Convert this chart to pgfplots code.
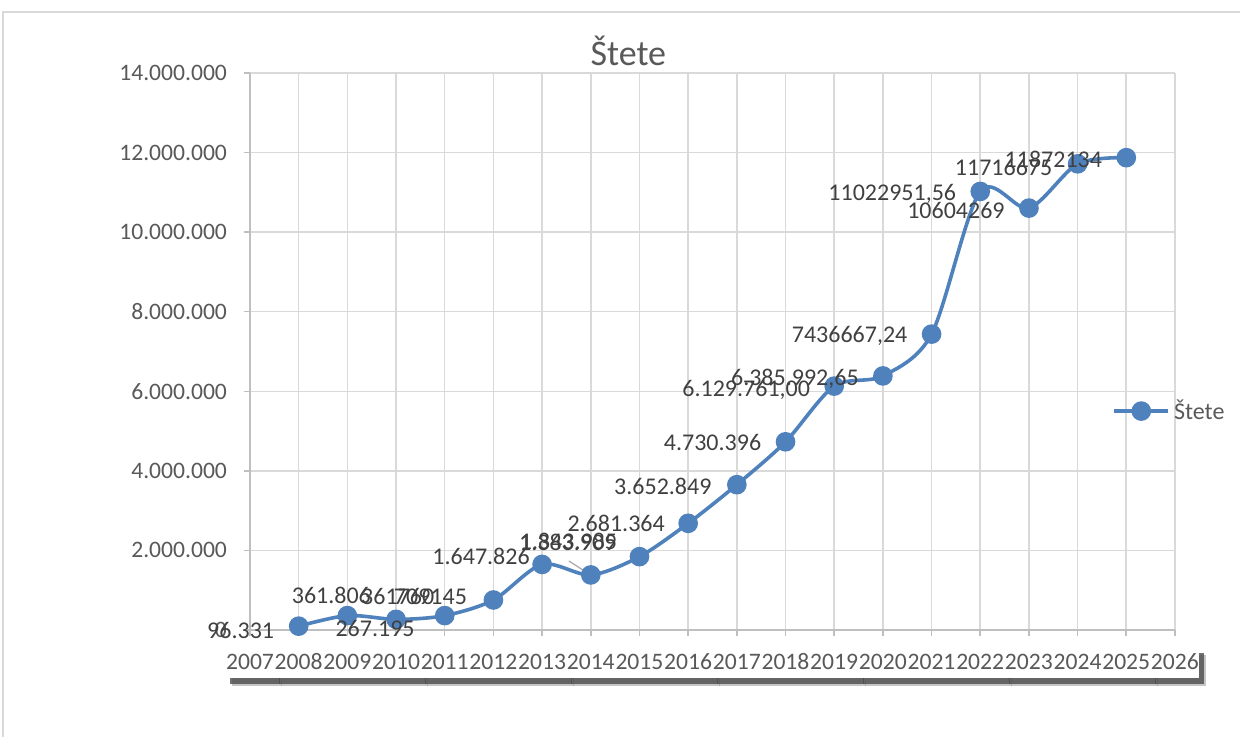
\documentclass[border=0pt]{standalone}
\usepackage{fontspec}
\setmainfont{Carlito}
\usepackage{pgfplots}
\usepackage{pgfplotstable}
\pgfplotsset{compat=1.18}
\usetikzlibrary{shadows}

\definecolor{steteblue}{RGB}{79,129,189}
\definecolor{gridgray}{RGB}{217,217,217}
\definecolor{axisgray}{RGB}{191,191,191}
\definecolor{textgray}{RGB}{89,89,89}
\definecolor{labelgray}{RGB}{64,64,64}

% dx, dy: label offset from its point, in px of the reference (y up)
\pgfplotstableread{
year value lab dx dy
2008 96331 96.331 -58 -4
2009 361806 361.806 -16 20
2010 267195 267.195 -21 -9
2011 361760 361760 -47 19
2012 754145 709145 -63 3
2013 1647826 1.647.826 -61 8
2014 1383909 1.383.909 -23 33
2015 1843985 1.843.985 -71 15
2016 2681364 2.681.364 -72 0
2017 3652849 3.652.849 -74 -2
2018 4730396 4.730.396 -73 -1
2019 6129761 6.129.761,00 -88 -4
2020 6385992.65 6.385.992,65 -88 -3
2021 7436667.24 7436667,24 -82 -2
2022 11022951.56 11022951,56 -88 -2
2023 10604269 10604269 -73 -2
2024 11716675 11716675 -74 -4
2025 11872134 11872134 -73 -2
}\stete

\begin{document}
\begin{tikzpicture}
\begin{axis}[
    scale only axis, width=462.5pt, height=278.5pt,
    xmin=2007, xmax=2026, ymin=0, ymax=14000000,
    xtick={2007,...,2026}, ytick={0,2000000,...,14000000},
    scaled y ticks=false, clip=false,
    grid=major, grid style={gridgray, line width=0.75pt},
    axis lines*=left, axis line style={axisgray, line width=0.75pt},
    tick align=outside, major tick length=3pt, tick style={axisgray, line width=0.75pt},
    ticklabel style={font=\fontsize{11.8}{14}\selectfont, text=textgray},
    yticklabel={\pgfmathprintnumber[fixed, precision=0, 1000 sep={.}, assume math mode=true]{\tick}},
    xticklabel={\pgfmathprintnumber[fixed, precision=0, 1000 sep={}, assume math mode=true]{\tick}},
    y tick label style={xshift=-5pt},
    x tick label style={anchor=center, yshift=-13pt,
        fill=white, inner xsep=0.3pt, inner ysep=0pt, minimum height=15.5pt,
        drop shadow={shadow xshift=3.5pt, shadow yshift=-4pt, fill=black!45, opacity=0.5},
        drop shadow={shadow xshift=2.5pt, shadow yshift=-3pt, fill=black!70, opacity=0.8}},
    title={Štete},
    title style={at={(axis description cs:0.409,1.018)}, anchor=center,
        font=\fontsize{18}{22}\selectfont, text=textgray},
    legend style={at={(axis description cs:0.932,0.393)}, anchor=west, draw=none, fill=none,
        font=\fontsize{12}{14}\selectfont, text=textgray, inner sep=0pt},
    legend image code/.code={
        \draw[mark repeat=2, mark phase=2, #1] plot coordinates {(0pt,0pt) (13.5pt,0pt) (27pt,0pt)};
    },
]
\draw[gray!70, line width=0.6pt] (2013.55,1734000) -- (2013.95,1420000);
\addplot[steteblue, line width=1.8pt, smooth, mark=*, mark size=4pt,
    mark options={fill=steteblue, draw=steteblue},
    nodes near coords, point meta=explicit symbolic,
    visualization depends on={\thisrow{dx} \as \dx},
    visualization depends on={\thisrow{dy} \as \dy},
    every node near coord/.append style={anchor=center, text=labelgray,
        font=\fontsize{12}{14}\selectfont, inner sep=0pt,
        xshift={0.5pt*\dx}, yshift={0.5pt*\dy}},
] table[x=year, y=value, meta=lab] {\stete};
\addlegendentry{Štete}
\end{axis}
\pgfresetboundingbox
\useasboundingbox (-125pt,-53.5pt) rectangle (495pt,315pt);
\draw[gridgray, line width=0.75pt] (-123.5pt,-60pt) |- (500pt,309pt);
\end{tikzpicture}
\end{document}
